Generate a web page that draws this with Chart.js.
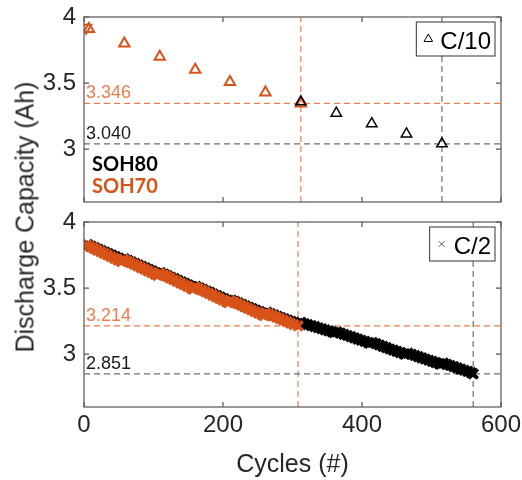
<!DOCTYPE html>
<html>
<head>
<meta charset="utf-8">
<script src="https://cdn.jsdelivr.net/npm/chart.js@4.4.1/dist/chart.umd.min.js"></script>
<style>
  body { margin: 0; background: #fff; }
  #wrap { position: relative; width: 522px; height: 480px; }
  canvas { position: absolute; left: 0; }
  #top { top: 0; }
  #bottom { top: 210px; }
  #ytitle {
    position: absolute; left: 25px; top: 217px;
    transform: translate(-50%, -50%) rotate(-90deg);
    font: 25px "Liberation Sans", Arial, sans-serif; color: #262626; white-space: nowrap;
  }
</style>
</head>
<body>
<div id="wrap">
  <canvas id="top" width="522" height="210"></canvas>
  <canvas id="bottom" width="522" height="270"></canvas>
  <div id="ytitle">Discharge Capacity (Ah)</div>
</div>
<script>
// C/10 check-up capacities (triangles)
let c10Soh70Cycles = [7, 58, 109, 160, 210, 261, 312];
let c10Soh70Cap = [3.910, 3.800, 3.700, 3.600, 3.508, 3.428, 3.346];
let c10Soh70FirstCycles = [3];
let c10Soh70FirstCap = [3.918];
let c10Soh80Cycles = [312, 363, 414, 464, 515];
let c10Soh80Cap = [3.358, 3.272, 3.193, 3.115, 3.040];

// C/2 ageing cycles (crosses), one block per 50-cycle stretch
let c2Soh80Cycles = [
  5, 10, 15, 20, 25, 30, 35, 40, 45, 50, 55,
  58, 63, 68, 73, 78, 83, 88, 93, 98, 103, 107,
  110, 115, 120, 125, 130, 135, 140, 145, 150, 155, 158,
  161, 166, 171, 176, 181, 186, 191, 196, 201, 206, 209,
  212, 217, 222, 227, 232, 237, 242, 247, 252, 257, 260,
  263, 268, 273, 278, 283, 288, 293, 298, 303, 308,
  312, 317, 322, 327, 332, 337, 342, 347, 352, 357, 360,
  364, 369, 374, 379, 384, 389, 394, 399, 404, 409, 411,
  415, 420, 425, 430, 435, 440, 445, 450, 455, 460, 462,
  466, 471, 476, 481, 486, 491, 496, 501, 506, 511, 513,
  517, 522, 527, 532, 537, 542, 547, 552, 557, 560
];
let c2Soh80Cap = [
  3.830, 3.818, 3.807, 3.795, 3.784, 3.772, 3.761, 3.749, 3.738, 3.726, 3.715,
  3.722, 3.710, 3.699, 3.687, 3.676, 3.664, 3.653, 3.641, 3.630, 3.618, 3.609,
  3.617, 3.605, 3.594, 3.582, 3.571, 3.559, 3.548, 3.536, 3.525, 3.513, 3.506,
  3.513, 3.501, 3.490, 3.478, 3.467, 3.455, 3.444, 3.432, 3.421, 3.409, 3.403,
  3.410, 3.399, 3.388, 3.377, 3.366, 3.355, 3.344, 3.333, 3.322, 3.311, 3.305,
  3.318, 3.307, 3.297, 3.287, 3.277, 3.267, 3.257, 3.248, 3.239, 3.231,
  3.240, 3.232, 3.224, 3.216, 3.208, 3.200, 3.192, 3.184, 3.176, 3.168, 3.163,
  3.168, 3.159, 3.150, 3.141, 3.132, 3.123, 3.114, 3.105, 3.096, 3.087, 3.083,
  3.088, 3.079, 3.069, 3.059, 3.049, 3.039, 3.030, 3.021, 3.012, 3.003, 3.000,
  3.008, 2.999, 2.990, 2.981, 2.972, 2.963, 2.954, 2.945, 2.936, 2.928, 2.925,
  2.932, 2.923, 2.914, 2.905, 2.896, 2.887, 2.878, 2.869, 2.860, 2.851
];
let c2Soh70Cycles = [
  4, 9, 14, 19, 24, 29, 34, 39, 44, 49, 54,
  57, 62, 67, 72, 77, 82, 87, 92, 97, 102, 106,
  109, 114, 119, 124, 129, 134, 139, 144, 149, 154, 157,
  160, 165, 170, 175, 180, 185, 190, 195, 200, 205, 208,
  211, 216, 221, 226, 231, 236, 241, 246, 251, 256, 259,
  262, 267, 272, 277, 282, 287, 292, 297, 302, 308
];
let c2Soh70Cap = [
  3.826, 3.813, 3.800, 3.787, 3.775, 3.762, 3.750, 3.737, 3.725, 3.712, 3.700,
  3.718, 3.705, 3.693, 3.680, 3.668, 3.655, 3.643, 3.630, 3.618, 3.605, 3.595,
  3.613, 3.600, 3.588, 3.575, 3.563, 3.550, 3.538, 3.525, 3.513, 3.500, 3.492,
  3.509, 3.496, 3.484, 3.471, 3.459, 3.446, 3.434, 3.421, 3.409, 3.396, 3.389,
  3.406, 3.394, 3.382, 3.370, 3.358, 3.346, 3.334, 3.322, 3.310, 3.298, 3.291,
  3.313, 3.301, 3.290, 3.279, 3.268, 3.257, 3.246, 3.235, 3.224, 3.214
];

// end-of-life levels: [SOH80, SOH70]
let c10Limits = [3.040, 3.346];
let c10LimitCycles = [515, 312];
let c2Limits = [2.851, 3.214];
let c2LimitCycles = [560, 308];

let xTicks = [0, 200, 400, 600];
let yTicks = [3, 3.5, 4];
const X_MIN = 0, X_MAX = 600, Y_MIN = 2.6, Y_MAX = 4;

const ORANGE = '#d95319';
const ORANGE_LIGHT = '#ee7d4f';
const GREY_DASH = '#6e6e6e';
const AXIS_FONT = '"Liberation Sans", Arial, sans-serif';

function pts(xs, ys) {
  return xs.map((x, i) => ({ x: x, y: ys[i] }));
}

function dashed(data, color) {
  return {
    data: data, showLine: true, borderColor: color, borderWidth: 1.2,
    borderDash: [6, 4], pointRadius: 0, fill: false
  };
}

function hLine(v) { return [{ x: X_MIN, y: v }, { x: X_MAX, y: v }]; }
function vLine(c) { return [{ x: c, y: Y_MIN }, { x: c, y: Y_MAX }]; }

function limitLines(limits, cycles) {
  return [
    dashed(hLine(limits[0]), GREY_DASH),
    dashed(hLine(limits[1]), ORANGE_LIGHT),
    dashed(vLine(cycles[0]), GREY_DASH),
    dashed(vLine(cycles[1]), ORANGE_LIGHT)
  ];
}

// box with inward ticks, value notes on the dashed lines and a boxed legend
function makeFrame(cfg) {
  return {
    id: 'frame',
    afterDatasetsDraw(chart) {
      const { ctx, chartArea: a } = chart;
      const x = chart.scales.x, y = chart.scales.y;
      ctx.save();

      ctx.font = '18px ' + AXIS_FONT;
      ctx.textBaseline = 'middle';
      ctx.textAlign = 'left';
      cfg.limits.forEach((v, i) => {
        ctx.fillStyle = i === 0 ? '#1a1a1a' : ORANGE_LIGHT;
        ctx.fillText(v.toFixed(3), a.left + 2, y.getPixelForValue(v) - 10);
      });

      if (cfg.soh) {
        ctx.font = 'bold 20px Lato, "Open Sans", sans-serif';
        ctx.fillStyle = '#000';
        ctx.fillText('SOH80', a.left + 8, a.bottom - 37);
        ctx.fillStyle = ORANGE;
        ctx.fillText('SOH70', a.left + 8, a.bottom - 15);
      }

      ctx.strokeStyle = '#555';
      ctx.lineWidth = 1.2;
      ctx.strokeRect(a.left, a.top, a.right - a.left, a.bottom - a.top);
      ctx.beginPath();
      xTicks.forEach(v => {
        const px = x.getPixelForValue(v);
        ctx.moveTo(px, a.bottom); ctx.lineTo(px, a.bottom - 5);
        ctx.moveTo(px, a.top); ctx.lineTo(px, a.top + 5);
      });
      yTicks.forEach(v => {
        const py = y.getPixelForValue(v);
        ctx.moveTo(a.left, py); ctx.lineTo(a.left + 5, py);
        ctx.moveTo(a.right, py); ctx.lineTo(a.right - 5, py);
      });
      ctx.stroke();

      // legend
      ctx.font = '24px ' + AXIS_FONT;
      const tw = ctx.measureText(cfg.label).width;
      const w = 24 + tw + 4, h = 34;
      const bx = a.right - 6 - w, by = a.top + 5;
      ctx.fillStyle = '#fff';
      ctx.fillRect(bx, by, w, h);
      ctx.strokeStyle = '#333';
      ctx.lineWidth = 1;
      ctx.strokeRect(bx, by, w, h);
      ctx.fillStyle = '#000';
      ctx.textBaseline = 'alphabetic';
      ctx.fillText(cfg.label, bx + 24, by + h / 2 + 9.5);
      ctx.strokeStyle = cfg.markerColor;
      ctx.fillStyle = 'rgba(0,0,0,0)';
      Chart.helpers.drawPoint(ctx, {
        pointStyle: cfg.marker, radius: cfg.markerRadius, borderWidth: 1, rotation: 0
      }, bx + 12, by + h / 2);

      ctx.restore();
    }
  };
}

function scales(showX) {
  return {
    x: {
      type: 'linear', min: X_MIN, max: X_MAX, display: showX,
      afterBuildTicks: s => { s.ticks = xTicks.map(v => ({ value: v })); },
      afterFit: s => {
        if (showX) s.height = 73;
        s.paddingLeft = 0;
        s.paddingRight = 0;
      },
      grid: { display: false, drawTicks: false }, border: { display: false },
      ticks: {
        padding: 4, color: '#262626', font: { size: 24, family: AXIS_FONT },
        callback: v => String(v)
      },
      title: {
        display: showX, text: 'Cycles (#)', color: '#262626',
        padding: { top: 0, bottom: 0 }, font: { size: 25, family: AXIS_FONT }
      }
    },
    y: {
      type: 'linear', min: Y_MIN, max: Y_MAX,
      afterBuildTicks: s => { s.ticks = yTicks.map(v => ({ value: v })); },
      afterFit: s => {
        s.width = 84;
        s.paddingTop = 0;
        s.paddingBottom = 0;
      },
      grid: { display: false, drawTicks: false }, border: { display: false },
      ticks: {
        padding: 8, color: '#262626', font: { size: 24, family: AXIS_FONT },
        callback: v => String(v)
      }
    }
  };
}

const common = {
  responsive: false,
  animation: false,
  plugins: { legend: { display: false }, tooltip: { enabled: false } }
};

new Chart(document.getElementById('top'), {
  type: 'scatter',
  data: {
    datasets: [
      {
        data: pts(c10Soh80Cycles, c10Soh80Cap), pointStyle: 'triangle', pointRadius: 6,
        borderColor: '#000', backgroundColor: 'rgba(0,0,0,0)', borderWidth: 1.5
      },
      {
        data: pts(c10Soh70Cycles, c10Soh70Cap), pointStyle: 'triangle', pointRadius: 6,
        borderColor: ORANGE, backgroundColor: 'rgba(0,0,0,0)', borderWidth: 2
      },
      {
        data: pts(c10Soh70FirstCycles, c10Soh70FirstCap), pointStyle: 'triangle', pointRadius: 6,
        rotation: 180, borderColor: ORANGE, backgroundColor: 'rgba(0,0,0,0)', borderWidth: 2
      },
      ...limitLines(c10Limits, c10LimitCycles)
    ]
  },
  options: Object.assign({}, common, {
    layout: { padding: { top: 17, right: 21, bottom: 6, left: 0 } },
    scales: scales(false)
  }),
  plugins: [makeFrame({
    limits: c10Limits, soh: true, label: 'C/10',
    marker: 'triangle', markerRadius: 5, markerColor: '#000'
  })]
});

new Chart(document.getElementById('bottom'), {
  type: 'scatter',
  data: {
    datasets: [
      {
        data: pts(c2Soh70Cycles, c2Soh70Cap), pointStyle: 'crossRot', pointRadius: 6.5,
        borderColor: ORANGE, borderWidth: 3.5
      },
      {
        data: pts(c2Soh80Cycles, c2Soh80Cap), pointStyle: 'crossRot', pointRadius: 6.5,
        borderColor: '#000', borderWidth: 3.5
      },
      ...limitLines(c2Limits, c2LimitCycles)
    ]
  },
  options: Object.assign({}, common, {
    layout: { padding: { top: 12, right: 21, bottom: 0, left: 0 } },
    scales: scales(true)
  }),
  plugins: [makeFrame({
    limits: c2Limits, soh: false, label: 'C/2',
    marker: 'crossRot', markerRadius: 4, markerColor: '#555'
  })]
});
</script>
</body>
</html>
